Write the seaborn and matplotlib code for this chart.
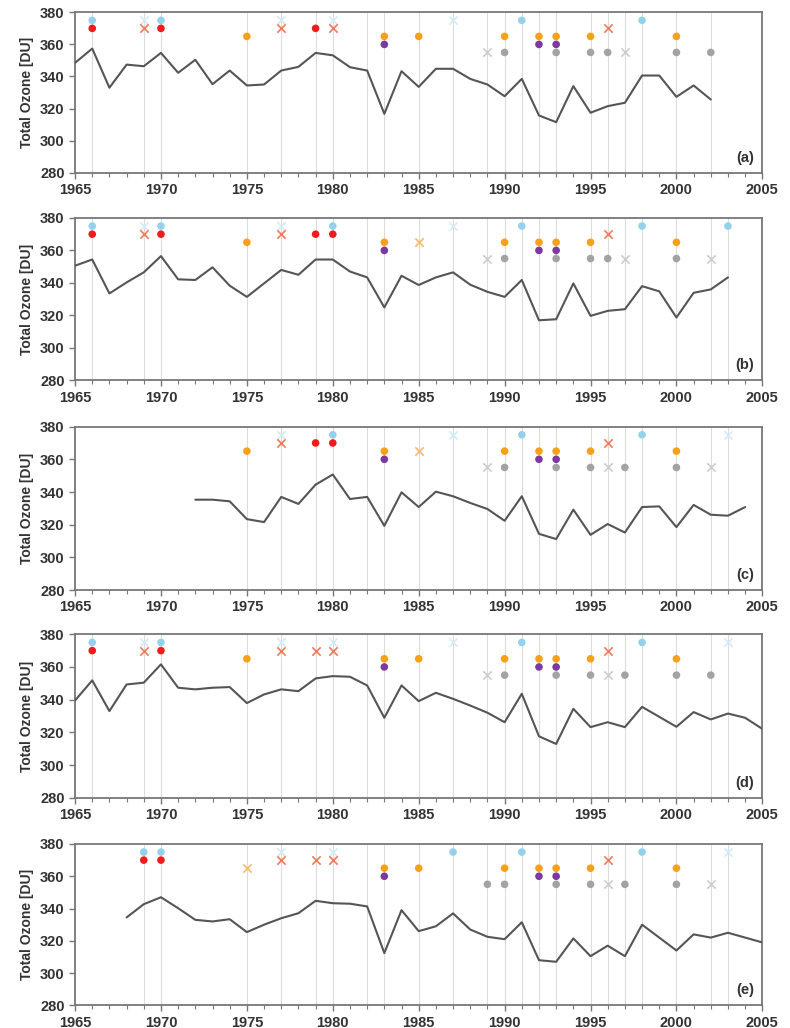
import matplotlib
matplotlib.use("Agg")
import matplotlib.pyplot as plt
import seaborn as sns
import pandas as pd

# annual mean total ozone, one series per station panel
START_A = 1965
OZONE_A = [348.5, 357.4, 333, 347.4, 346.4, 354.7, 342.3, 350.4, 335.2, 343.7,
           334.4, 335, 343.7, 346, 354.7, 353.2, 345.8, 343.7, 316.7, 343.3,
           333.5, 344.8, 344.8, 338.5, 335, 327.7, 338.5, 315.7, 311.5, 334,
           317.4, 321.5, 323.6, 340.6, 340.6, 327.3, 334.4, 325.6]
START_B = 1965
OZONE_B = [350.6, 354.4, 333.5, 340.3, 346.5, 356.5, 342.2, 341.8, 349.6, 338.3,
           331.4, 339.7, 348, 345, 354.4, 354.4, 347, 343.4, 324.9, 344.4,
           338.7, 343.4, 346.5, 338.9, 334.5, 331.4, 341.8, 317, 317.6, 339.7,
           319.7, 322.8, 323.8, 338, 334.8, 318.7, 333.9, 336, 343.4]
START_C = 1972
OZONE_C = [335.3, 335.3, 334.3, 323.4, 321.6, 337, 332.7, 344.5, 350.7, 335.7,
           337, 319.3, 339.8, 330.8, 340.2, 337.4, 333.3, 329.6, 322.4, 337.4,
           314.4, 311.2, 329.2, 313.8, 320.4, 315.2, 330.8, 331.2, 318.5, 332.1,
           326.1, 325.5, 330.8]
START_D = 1965
OZONE_D = [339.5, 351.8, 333, 349.3, 350.4, 361.6, 347.3, 346.3, 347.3, 347.7,
           337.9, 343.2, 346.3, 345.2, 353, 354.4, 354, 348.7, 328.9, 348.7,
           339.1, 344.2, 340.5, 336.4, 332, 326.2, 343.6, 317.6, 312.9, 334.4,
           323.2, 326.2, 323.2, 335.6, 329.5, 323.4, 332.4, 327.9, 331.5, 328.9,
           322.1]
START_E = 1968
OZONE_E = [334.5, 342.7, 347, 340.2, 333, 332, 333.4, 325.4, 330, 334,
           337.1, 344.8, 343.3, 343, 341.3, 312.4, 339, 326, 329, 337,
           327, 322.5, 321, 331.5, 308, 307, 321.5, 310.5, 317, 310.5,
           330, 322, 314, 324, 322, 325, 322, 319]

# event years per marker row: (filled dots, crosses)
EVENTS_A = {"cyan": ([1966, 1970, 1991, 1998], [1969, 1977, 1980, 1987]),
            "red": ([1966, 1970, 1979], [1969, 1977, 1980, 1996]),
            "orange": ([1975, 1983, 1985, 1990, 1992, 1993, 1995, 2000], []),
            "purple": ([1983, 1992, 1993], []),
            "grey": ([1990, 1993, 1995, 1996, 2000, 2002], [1989, 1997])}
EVENTS_B = {"cyan": ([1966, 1970, 1980, 1991, 1998, 2003], [1969, 1977, 1987]),
            "red": ([1966, 1970, 1979, 1980], [1969, 1977, 1996]),
            "orange": ([1975, 1983, 1990, 1992, 1993, 1995, 2000], [1985]),
            "purple": ([1983, 1992, 1993], []),
            "grey": ([1990, 1993, 1995, 1996, 2000], [1989, 1997, 2002])}
EVENTS_C = {"cyan": ([1980, 1991, 1998], [1977, 1987, 2003]),
            "red": ([1979, 1980], [1977, 1996]),
            "orange": ([1975, 1983, 1990, 1992, 1993, 1995, 2000], [1985]),
            "purple": ([1983, 1992, 1993], []),
            "grey": ([1990, 1993, 1995, 1997, 2000], [1989, 1996, 2002])}
EVENTS_D = {"cyan": ([1966, 1970, 1991, 1998], [1969, 1977, 1980, 1987, 2003]),
            "red": ([1966, 1970], [1969, 1977, 1979, 1980, 1996]),
            "orange": ([1975, 1983, 1985, 1990, 1992, 1993, 1995, 2000], []),
            "purple": ([1983, 1992, 1993], []),
            "grey": ([1990, 1993, 1995, 1997, 2000, 2002], [1989, 1996])}
EVENTS_E = {"cyan": ([1969, 1970, 1987, 1991, 1998], [1977, 1980, 2003]),
            "red": ([1969, 1970], [1977, 1979, 1980, 1996]),
            "orange": ([1983, 1985, 1990, 1992, 1993, 1995, 2000], [1975]),
            "purple": ([1983, 1992, 1993], []),
            "grey": ([1989, 1990, 1993, 1995, 1997, 2000], [1996, 2002])}

ROW_LEVEL = {"cyan": 375, "red": 370, "orange": 365, "purple": 360, "grey": 355}
DOT_COLOR = {"cyan": "#93d2ea", "red": "#ee1c1c", "orange": "#f7a11a",
             "purple": "#7a3a9e", "grey": "#a3a3a3"}
CROSS_COLOR = {"cyan": "#d3ecf5", "red": "#f07a5a", "orange": "#f8b970",
               "purple": "#a787c0", "grey": "#cccccc"}

PANELS = [("(a)", START_A, OZONE_A, EVENTS_A),
          ("(b)", START_B, OZONE_B, EVENTS_B),
          ("(c)", START_C, OZONE_C, EVENTS_C),
          ("(d)", START_D, OZONE_D, EVENTS_D),
          ("(e)", START_E, OZONE_E, EVENTS_E)]

# axes boxes in figure fractions (left, bottom, width, height)
BOXES = [(0.095, 0.832, 0.870, 0.156),
         (0.095, 0.630, 0.870, 0.158),
         (0.095, 0.426, 0.870, 0.159),
         (0.095, 0.224, 0.870, 0.159),
         (0.095, 0.022, 0.870, 0.157)]

sns.set_style("white")
plt.rcParams["font.family"] = ["Liberation Sans", "DejaVu Sans"]
TEXT = "#333333"
SPINE = "#777777"

fig = plt.figure(figsize=(7.9, 10.28), dpi=100)

for (label, start, ozone, events), box in zip(PANELS, BOXES):
    ax = fig.add_axes(box)

    guide_years = {1982}
    for dots, crosses in events.values():
        guide_years.update(dots)
        guide_years.update(crosses)
    for yr in sorted(guide_years):
        ax.axvline(yr, color="#dcdcdc", lw=0.8, zorder=0)

    df = pd.DataFrame({"year": list(range(start, start + len(ozone))),
                       "ozone": ozone})
    sns.lineplot(data=df, x="year", y="ozone", ax=ax, color="#555555",
                 lw=1.5, zorder=3)

    for row, (dots, crosses) in events.items():
        lvl = ROW_LEVEL[row]
        if dots:
            sns.scatterplot(x=dots, y=[lvl] * len(dots), ax=ax, marker="o",
                            s=30, color=DOT_COLOR[row], edgecolor="none",
                            zorder=4)
        if crosses:
            sns.scatterplot(x=crosses, y=[lvl] * len(crosses), ax=ax,
                            marker="x", s=36, color=CROSS_COLOR[row],
                            linewidth=1.2, zorder=4)

    ax.set_xlim(1965, 2005)
    ax.set_ylim(280, 380)
    ax.set_xticks(range(1965, 2006, 5))
    ax.set_xticks(range(1965, 2006), minor=True)
    ax.set_yticks(range(280, 381, 20))
    ax.tick_params(axis="both", which="major", direction="out", length=4,
                   width=1, color=SPINE, labelsize=10.5, labelcolor=TEXT,
                   bottom=True, left=True)
    ax.tick_params(axis="x", which="minor", direction="out", length=3,
                   width=0.8, color=SPINE, bottom=True)
    for t in ax.get_xticklabels() + ax.get_yticklabels():
        t.set_fontweight("bold")
    for sp in ax.spines.values():
        sp.set_color(SPINE)
        sp.set_linewidth(1.3)
    ax.set_xlabel("")
    ax.set_ylabel("Total Ozone [DU]", fontsize=10, fontweight="bold",
                  color=TEXT, labelpad=4)
    ax.text(0.988, 0.05, label, transform=ax.transAxes, ha="right",
            va="bottom", fontsize=10.5, fontweight="bold", color=TEXT)

fig.savefig("out.png", dpi=100)
